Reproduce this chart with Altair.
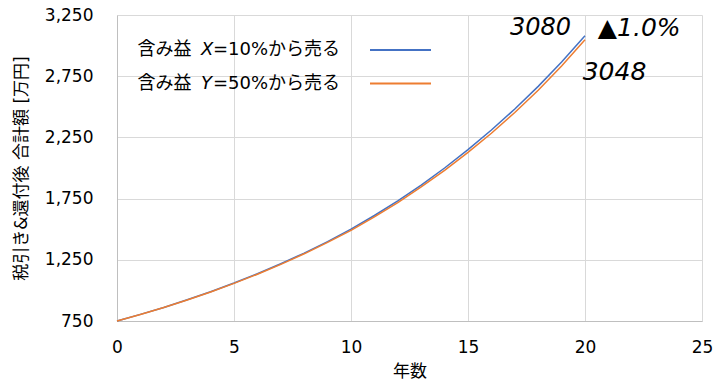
import altair as alt
import pandas as pd

years = list(range(0, 21))
series_x = [750, 804, 861, 923, 989, 1060, 1136, 1218, 1305, 1399, 1500,
            1612, 1732, 1861, 2000, 2150, 2310, 2482, 2667, 2866, 3080]
series_y = [750, 803, 860, 921, 987, 1057, 1132, 1213, 1299, 1392, 1491,
            1601, 1718, 1845, 1981, 2128, 2284, 2453, 2635, 2834, 3048]
series_names = ["含み益 X=10%から売る", "含み益 Y=50%から売る"]
colors = ["#4472C4", "#ED7D31"]
x_ticks = [0, 5, 10, 15, 20, 25]
y_ticks = [750, 1250, 1750, 2250, 2750, 3250]

FONT = "DejaVu Sans, Noto Sans CJK JP, sans-serif"
W, H = 585, 306

rows = []
for yr, a, b in zip(years, series_x, series_y):
    rows.append({"year": yr, "value": a, "series": series_names[0]})
    rows.append({"year": yr, "value": b, "series": series_names[1]})
df = pd.DataFrame(rows)

xs = alt.Scale(domain=[0, 25], nice=False)
ys = alt.Scale(domain=[750, 3250], nice=False, zero=False)

lines = alt.Chart(df).mark_line(strokeWidth=1.5).encode(
    x=alt.X("year:Q", scale=xs,
            axis=alt.Axis(values=x_ticks, title="年数", titleFontSize=17,
                          titleFontWeight="normal", titleFont=FONT,
                          titlePadding=8, labelPadding=18, titleColor="#000",
                          labelFlush=False)),
    y=alt.Y("value:Q", scale=ys,
            axis=alt.Axis(values=y_ticks, format=",d",
                          title="税引き&還付後 合計額 [万円]", titleFontSize=17,
                          titleFontWeight="normal", titleFont=FONT,
                          titlePadding=14, labelPadding=24, titleColor="#000",
                          labelFlush=False)),
    color=alt.Color("series:N", scale=alt.Scale(domain=series_names, range=colors),
                    legend=None),
)

# manual legend
leg_rows = pd.DataFrame({
    "series": series_names,
    "pre": ["含み益", "含み益"],
    "var": ["X", "Y"],
    "post": ["=10%から売る", "=50%から売る"],
    "ypix": [35.0, 68.5],
})

leg_base = alt.Chart(leg_rows)
leg_lines = leg_base.mark_rule(strokeWidth=2).encode(
    x=alt.value(253), x2=alt.value(314),
    y=alt.Y("ypix:Q", scale=None),
    color=alt.Color("series:N", scale=alt.Scale(domain=series_names, range=colors),
                    legend=None),
)
leg_pre = leg_base.mark_text(align="left", baseline="middle", fontSize=18,
                             font=FONT, color="#000").encode(
    x=alt.value(20.5), y=alt.Y("ypix:Q", scale=None), text="pre:N")
leg_var = leg_base.mark_text(align="left", baseline="middle", fontSize=18,
                             font=FONT, fontStyle="italic", color="#000").encode(
    x=alt.value(84), y=alt.Y("ypix:Q", scale=None), text="var:N")
leg_post = leg_base.mark_text(align="left", baseline="middle", fontSize=18,
                              font=FONT, color="#000").encode(
    x=alt.value(96), y=alt.Y("ypix:Q", scale=None), text="post:N")

# annotations
ann = pd.DataFrame({
    "x": [19.4, 20.55, 19.9],
    "y": [3140, 3140, 2785],
    "label": ["3080", "▲1.0%", "3048"],
    "align": ["right", "left", "left"],
})
ann_r = alt.Chart(ann[ann["align"] == "right"]).mark_text(
    align="right", baseline="middle", fontSize=24, fontStyle="italic",
    font=FONT, color="#000").encode(
    x=alt.X("x:Q", scale=xs), y=alt.Y("y:Q", scale=ys), text="label:N")
ann_l = alt.Chart(ann[ann["align"] == "left"]).mark_text(
    align="left", baseline="middle", fontSize=25, fontStyle="italic",
    font=FONT, color="#000").encode(
    x=alt.X("x:Q", scale=xs), y=alt.Y("y:Q", scale=ys), text="label:N")

chart = alt.layer(lines, leg_lines, leg_pre, leg_var, leg_post, ann_r, ann_l).properties(
    width=W, height=H,
    autosize=alt.AutoSizeParams(type="none"),
    padding={"left": 117, "top": 15, "right": 18, "bottom": 65},
    background="white",
).configure_view(strokeWidth=0).configure_axis(
    labelFont=FONT, labelFontSize=17, labelColor="#000",
    domainColor="#bfbfbf", gridColor="#d9d9d9", ticks=False,
    domainWidth=1, gridWidth=1,
)

chart.save("out.html", embed_options={"renderer": "svg", "actions": False})
